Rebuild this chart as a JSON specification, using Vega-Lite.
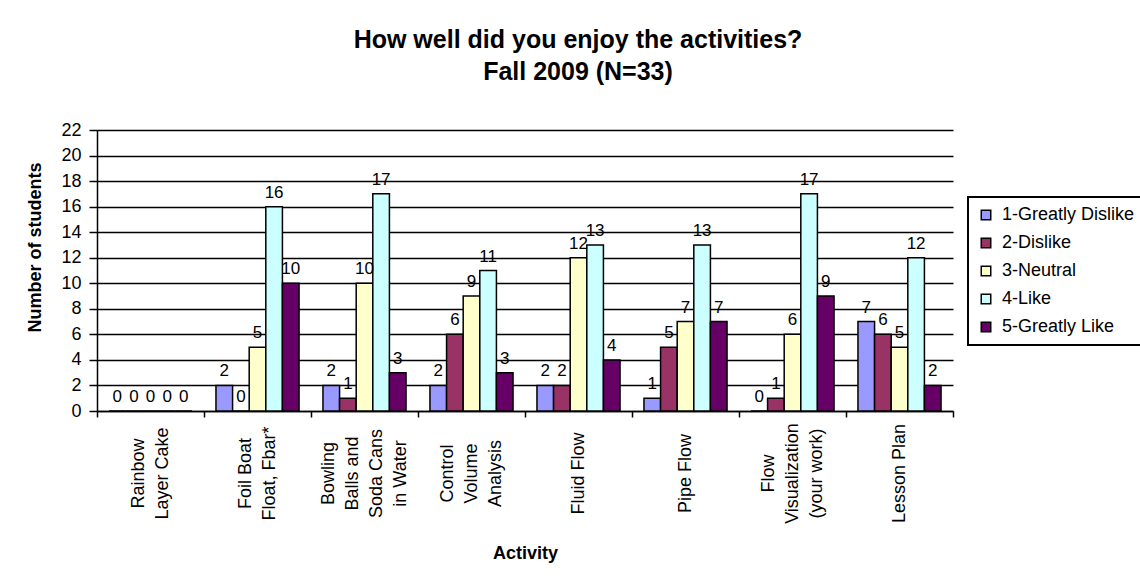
{
  "$schema": "https://vega.github.io/schema/vega-lite/v6.json",
  "width": 856,
  "height": 281,
  "autosize": {"type": "none"},
  "padding": {"left": 97, "top": 130, "right": 187, "bottom": 173},
  "background": "white",
  "config": {
    "view": {"stroke": null},
    "font": "Liberation Sans",
    "legend": {"strokeWidth": 2}
  },
  "title": {
    "text": ["How well did you enjoy the activities?", "Fall 2009 (N=33)"],
    "anchor": "middle",
    "frame": "group",
    "dx": 53,
    "offset": 36,
    "fontSize": 25,
    "lineHeight": 32,
    "fontWeight": "bold",
    "color": "black",
    "font": "Liberation Sans"
  },
  "data": {
    "values": [
      {"activity": "Rainbow|Layer Cake", "rating": "1-Greatly Dislike", "count": 0},
      {"activity": "Rainbow|Layer Cake", "rating": "2-Dislike", "count": 0},
      {"activity": "Rainbow|Layer Cake", "rating": "3-Neutral", "count": 0},
      {"activity": "Rainbow|Layer Cake", "rating": "4-Like", "count": 0},
      {"activity": "Rainbow|Layer Cake", "rating": "5-Greatly Like", "count": 0},
      {"activity": "Foil Boat|Float, Fbar*", "rating": "1-Greatly Dislike", "count": 2},
      {"activity": "Foil Boat|Float, Fbar*", "rating": "2-Dislike", "count": 0},
      {"activity": "Foil Boat|Float, Fbar*", "rating": "3-Neutral", "count": 5},
      {"activity": "Foil Boat|Float, Fbar*", "rating": "4-Like", "count": 16},
      {"activity": "Foil Boat|Float, Fbar*", "rating": "5-Greatly Like", "count": 10},
      {"activity": "Bowling|Balls and|Soda Cans|in Water", "rating": "1-Greatly Dislike", "count": 2},
      {"activity": "Bowling|Balls and|Soda Cans|in Water", "rating": "2-Dislike", "count": 1},
      {"activity": "Bowling|Balls and|Soda Cans|in Water", "rating": "3-Neutral", "count": 10},
      {"activity": "Bowling|Balls and|Soda Cans|in Water", "rating": "4-Like", "count": 17},
      {"activity": "Bowling|Balls and|Soda Cans|in Water", "rating": "5-Greatly Like", "count": 3},
      {"activity": "Control|Volume|Analysis", "rating": "1-Greatly Dislike", "count": 2},
      {"activity": "Control|Volume|Analysis", "rating": "2-Dislike", "count": 6},
      {"activity": "Control|Volume|Analysis", "rating": "3-Neutral", "count": 9},
      {"activity": "Control|Volume|Analysis", "rating": "4-Like", "count": 11},
      {"activity": "Control|Volume|Analysis", "rating": "5-Greatly Like", "count": 3},
      {"activity": "Fluid Flow", "rating": "1-Greatly Dislike", "count": 2},
      {"activity": "Fluid Flow", "rating": "2-Dislike", "count": 2},
      {"activity": "Fluid Flow", "rating": "3-Neutral", "count": 12},
      {"activity": "Fluid Flow", "rating": "4-Like", "count": 13},
      {"activity": "Fluid Flow", "rating": "5-Greatly Like", "count": 4},
      {"activity": "Pipe Flow", "rating": "1-Greatly Dislike", "count": 1},
      {"activity": "Pipe Flow", "rating": "2-Dislike", "count": 5},
      {"activity": "Pipe Flow", "rating": "3-Neutral", "count": 7},
      {"activity": "Pipe Flow", "rating": "4-Like", "count": 13},
      {"activity": "Pipe Flow", "rating": "5-Greatly Like", "count": 7},
      {"activity": "Flow|Visualization|(your work)", "rating": "1-Greatly Dislike", "count": 0},
      {"activity": "Flow|Visualization|(your work)", "rating": "2-Dislike", "count": 1},
      {"activity": "Flow|Visualization|(your work)", "rating": "3-Neutral", "count": 6},
      {"activity": "Flow|Visualization|(your work)", "rating": "4-Like", "count": 17},
      {"activity": "Flow|Visualization|(your work)", "rating": "5-Greatly Like", "count": 9},
      {"activity": "Lesson Plan", "rating": "1-Greatly Dislike", "count": 7},
      {"activity": "Lesson Plan", "rating": "2-Dislike", "count": 6},
      {"activity": "Lesson Plan", "rating": "3-Neutral", "count": 5},
      {"activity": "Lesson Plan", "rating": "4-Like", "count": 12},
      {"activity": "Lesson Plan", "rating": "5-Greatly Like", "count": 2}
    ]
  },
  "encoding": {
    "x": {
      "field": "activity",
      "type": "nominal",
      "sort": null,
      "scale": {"paddingInner": 0, "paddingOuter": 0},
      "axis": {
        "title": "Activity",
        "titleFontSize": 18,
        "titleFontWeight": "bold",
        "titleColor": "black",
        "titleY": 142,
        "titleBaseline": "middle",
        "labelExpr": "split(datum.label, '|')",
        "labelAngle": -90,
        "labelAlign": "center",
        "labelBaseline": "middle",
        "labelPadding": 56,
        "labelLineHeight": 24,
        "labelFontSize": 18,
        "labelColor": "black",
        "labelBound": false,
        "labelOverlap": false,
        "labelLimit": 0,
        "labelOffset": {
          "condition": [
            {"test": "length(split(datum.value, '|')) == 2", "value": -12},
            {"test": "length(split(datum.value, '|')) == 3", "value": -24},
            {"test": "length(split(datum.value, '|')) == 4", "value": -36}
          ],
          "value": 0
        },
        "tickBand": "extent",
        "tickSize": 6,
        "tickColor": "black",
        "tickWidth": 1.5,
        "domainColor": "black",
        "domainWidth": 1.5
      }
    },
    "xOffset": {
      "field": "rating",
      "type": "nominal",
      "scale": {"paddingInner": 0, "paddingOuter": 0.72}
    },
    "y": {
      "field": "count",
      "type": "quantitative",
      "scale": {"domain": [0, 22], "nice": false},
      "axis": {
        "title": "Number of students",
        "titleFontSize": 18,
        "titleFontWeight": "bold",
        "titleColor": "black",
        "titleX": -62,
        "titleY": 117,
        "titleAlign": "center",
        "titleBaseline": "middle",
        "values": [0, 2, 4, 6, 8, 10, 12, 14, 16, 18, 20, 22],
        "grid": true,
        "gridColor": "black",
        "gridWidth": 1.5,
        "gridOpacity": 1,
        "domainColor": "black",
        "domainWidth": 1.5,
        "tickColor": "black",
        "tickWidth": 1.5,
        "tickSize": 8,
        "labelPadding": 8,
        "labelFontSize": 18,
        "labelColor": "black"
      }
    }
  },
  "layer": [
    {
      "mark": {"type": "bar", "stroke": "black", "strokeWidth": 1.5},
      "encoding": {
        "color": {
          "field": "rating",
          "type": "nominal",
          "scale": {
            "domain": ["1-Greatly Dislike", "2-Dislike", "3-Neutral", "4-Like", "5-Greatly Like"],
            "range": ["#9999FF", "#993366", "#FFFFCC", "#CCFFFF", "#660066"]
          },
          "legend": {
            "title": null,
            "orient": "none",
            "legendX": 871,
            "legendY": 67,
            "strokeColor": "black",
            "padding": 9,
            "symbolType": "square",
            "symbolSize": 90,
            "symbolStrokeColor": "black",
            "symbolStrokeWidth": 1.5,
            "labelFontSize": 18,
            "labelColor": "black",
            "labelOffset": 7,
            "rowPadding": 10,
            "labelLimit": 0
          }
        }
      }
    },
    {
      "mark": {"type": "text", "baseline": "alphabetic", "dy": -9, "fontSize": 17, "color": "black"},
      "encoding": {"text": {"field": "count", "type": "quantitative"}}
    }
  ]
}
